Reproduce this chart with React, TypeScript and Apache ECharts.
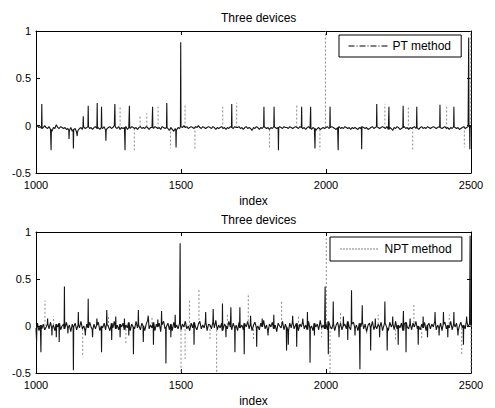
import React, { useEffect, useRef } from "react";
import * as echarts from "echarts";

// Baseline samples every 5 indices, from 1000 to 2500
const X_START = 1000;
const X_STEP = 5;

const PT_BASE = [
  -0.01,0.00,-0.02,-0.01,-0.03,-0.02,0.00,-0.02,-0.03,-0.01,-0.04,-0.06,-0.02,-0.03,0.01,-0.02,-0.03,-0.01,-0.02,-0.03,
  -0.02,-0.04,-0.03,-0.05,-0.02,-0.06,-0.04,-0.03,-0.07,-0.05,-0.03,-0.02,-0.04,-0.01,-0.03,-0.02,-0.01,-0.03,-0.02,-0.04,
  -0.02,-0.01,-0.03,-0.02,-0.04,-0.02,-0.03,-0.01,-0.05,-0.03,-0.02,-0.01,-0.03,-0.02,0.00,-0.02,-0.03,-0.01,-0.04,-0.02,
  -0.03,-0.02,-0.01,-0.04,-0.02,-0.03,-0.01,-0.02,-0.03,-0.02,-0.04,-0.02,-0.01,-0.03,-0.02,-0.03,-0.01,-0.02,-0.04,-0.02,
  -0.02,-0.03,-0.01,-0.02,-0.03,-0.02,-0.04,-0.01,-0.02,-0.03,-0.02,-0.03,-0.05,-0.02,-0.04,-0.06,-0.03,-0.05,-0.02,-0.03,
  -0.01,-0.02,0.00,-0.02,-0.01,-0.03,-0.02,-0.01,-0.02,-0.03,-0.01,-0.02,0.00,-0.02,-0.03,-0.01,-0.02,-0.03,-0.02,-0.01,
  -0.02,-0.03,-0.01,-0.02,-0.04,-0.02,-0.03,-0.02,-0.01,-0.03,-0.02,-0.04,-0.02,-0.03,-0.01,-0.02,-0.03,-0.01,-0.02,-0.02,
  -0.01,-0.03,-0.02,-0.04,-0.02,-0.01,-0.03,-0.02,-0.03,-0.05,-0.02,-0.03,-0.01,-0.02,-0.04,-0.02,-0.03,-0.01,-0.02,-0.03,
  -0.02,-0.04,-0.02,-0.03,-0.01,-0.02,-0.03,-0.02,-0.01,-0.02,-0.03,-0.01,-0.02,-0.02,-0.03,-0.01,-0.02,-0.03,-0.02,-0.01,
  -0.02,-0.03,-0.01,-0.02,-0.03,-0.02,-0.04,-0.02,-0.01,-0.03,-0.04,-0.02,-0.03,-0.05,-0.03,-0.02,-0.04,-0.03,-0.02,-0.03,
  -0.02,-0.01,-0.03,-0.02,-0.01,-0.02,-0.03,-0.04,-0.02,-0.01,-0.03,-0.02,-0.03,-0.01,-0.02,-0.03,-0.02,-0.04,-0.02,-0.03,
  -0.02,-0.03,-0.04,-0.02,-0.03,-0.01,-0.02,-0.03,-0.02,-0.04,-0.03,-0.02,-0.01,-0.03,-0.02,-0.01,-0.02,-0.03,-0.02,-0.01,
  -0.02,-0.03,-0.01,-0.04,-0.02,-0.03,-0.05,-0.02,-0.03,-0.01,-0.02,-0.04,-0.03,-0.02,-0.01,-0.03,-0.02,-0.04,-0.02,-0.03,
  -0.02,-0.01,-0.03,-0.02,-0.04,-0.02,-0.01,-0.03,-0.02,-0.03,-0.01,-0.02,-0.03,-0.02,-0.01,-0.02,-0.03,-0.02,-0.01,-0.02,
  -0.03,-0.02,-0.01,-0.03,-0.02,-0.04,-0.02,-0.03,-0.01,-0.02,-0.03,-0.02,-0.04,-0.03,-0.02,-0.01,-0.03,-0.02,-0.01,0.00,
  -0.02,
];

const NPT_BASE = [
  -0.02,0.03,-0.05,0.01,-0.03,0.02,-0.04,-0.01,0.02,-0.03,0.04,-0.02,0.01,-0.05,0.02,-0.01,0.03,-0.04,0.00,0.02,
  -0.03,0.04,-0.02,0.01,-0.06,0.02,-0.01,0.03,-0.04,0.01,-0.02,0.05,-0.03,0.00,-0.05,0.02,-0.02,0.04,-0.01,-0.04,
  0.02,-0.03,0.01,0.04,-0.05,0.00,-0.02,0.03,-0.04,0.02,-0.01,-0.05,0.03,-0.02,0.05,-0.03,0.01,-0.04,0.02,-0.01,
  0.03,-0.04,0.01,-0.02,0.04,-0.05,0.02,-0.01,-0.03,0.05,-0.02,0.01,-0.04,0.03,0.00,-0.05,0.02,0.06,-0.03,0.01,
  -0.02,0.04,-0.05,0.02,-0.01,0.03,-0.06,0.01,0.05,-0.03,-0.01,0.03,-0.04,0.02,-0.05,0.04,-0.02,0.01,-0.03,0.03,
  -0.04,0.02,-0.01,0.05,-0.03,0.00,-0.05,0.03,-0.02,0.04,-0.01,-0.04,0.02,0.05,-0.03,0.01,-0.02,0.04,-0.05,0.02,
  0.01,-0.03,0.04,-0.02,0.06,-0.04,0.01,-0.02,0.03,-0.05,0.02,0.00,-0.03,0.05,-0.01,-0.04,0.03,-0.02,0.01,-0.05,
  0.04,-0.02,0.01,-0.04,0.03,-0.01,0.05,-0.03,0.02,-0.05,0.01,0.04,-0.02,0.00,-0.04,0.03,-0.01,0.06,-0.03,0.01,
  -0.05,0.02,-0.01,0.04,-0.03,0.01,-0.06,0.03,0.00,-0.02,0.05,-0.04,0.02,-0.01,-0.05,0.03,-0.02,0.04,-0.03,0.01,
  0.03,-0.05,0.02,-0.01,0.04,-0.03,0.01,-0.04,0.05,-0.02,0.00,-0.05,0.03,-0.01,0.02,-0.04,0.06,-0.02,0.01,-0.03,
  0.02,-0.04,0.05,-0.01,-0.03,0.02,-0.05,0.01,0.04,-0.02,0.03,-0.04,0.00,0.02,-0.03,0.05,-0.01,-0.04,0.02,0.04,
  -0.02,0.01,-0.05,0.03,-0.01,0.04,-0.03,0.02,-0.06,0.01,0.03,-0.02,0.05,-0.04,0.00,-0.03,0.02,-0.01,0.04,-0.05,
  0.01,0.03,-0.02,-0.05,0.04,-0.01,0.02,-0.04,0.05,-0.03,0.01,-0.02,0.03,-0.05,0.02,0.04,-0.01,-0.03,0.02,-0.04,
  0.03,-0.01,0.05,-0.03,0.00,-0.04,0.02,-0.02,0.04,-0.05,0.01,0.03,-0.03,0.02,-0.01,0.05,-0.04,0.01,-0.02,0.03,
  -0.05,0.02,0.04,-0.03,0.01,-0.02,0.05,-0.04,0.02,-0.01,0.03,-0.05,0.00,0.04,-0.02,0.01,-0.03,0.05,-0.01,0.02,
  0.01,
];

// Spikes [index, value] drawn in the dark trace
const PT_SPIKES = [
  [1020,0.23],[1052,-0.26],[1114,-0.14],[1129,-0.24],[1142,-0.11],[1163,0.10],[1180,0.21],[1211,0.24],
  [1226,0.20],[1241,-0.16],[1272,0.23],[1307,-0.26],[1322,0.21],[1402,0.20],[1451,0.24],[1483,-0.23],
  [1499,0.88],[1675,0.23],[1786,0.20],[1821,0.20],[1836,-0.26],[1916,0.20],[1947,0.20],[1962,-0.24],
  [2014,0.20],[2042,-0.26],[2123,-0.25],[2175,0.23],[2217,0.20],[2266,0.21],[2313,0.20],[2393,0.22],
  [2441,0.20],[2492,0.93],[2496,-0.25],
];

// Spikes [index, value] drawn in the grey dotted trace
const PT_GRAY = [
  [1290,0.21],[1339,-0.26],[1359,0.11],[1382,0.13],[1421,0.20],[1464,-0.24],[1514,0.23],[1548,-0.26],
  [1644,0.20],[1692,0.24],[1805,-0.23],[1899,0.22],[1979,-0.26],[1998,1.0],[2203,0.23],[2284,0.20],
  [2299,-0.25],[2416,0.20],[2477,-0.23],[2499,1.0],
];

const NPT_SPIKES = [
  [1002,-0.17],[1017,-0.28],[1040,0.08],[1055,-0.10],[1070,-0.12],[1080,-0.17],[1098,0.42],[1110,-0.08],
  [1129,-0.47],[1146,0.15],[1170,-0.10],[1180,0.29],[1195,-0.12],[1210,0.08],[1226,-0.28],[1244,0.17],
  [1261,-0.15],[1275,0.10],[1290,-0.12],[1305,0.08],[1320,-0.10],[1336,-0.30],[1353,0.17],[1370,-0.17],
  [1387,0.11],[1405,-0.20],[1420,0.07],[1433,0.16],[1448,-0.40],[1465,-0.12],[1480,0.12],[1497,0.88],
  [1545,-0.20],[1585,0.15],[1611,0.18],[1643,0.24],[1655,-0.12],[1672,0.20],[1686,-0.28],[1703,0.20],
  [1718,-0.30],[1740,0.11],[1761,-0.22],[1780,0.08],[1800,-0.10],[1820,0.12],[1864,-0.26],[1870,-0.20],
  [1885,0.11],[1899,-0.22],[1920,0.08],[1936,0.15],[1945,-0.39],[1960,-0.10],[1997,0.42],[2008,-0.30],
  [2025,0.26],[2045,-0.12],[2060,0.10],[2075,-0.15],[2088,0.38],[2100,-0.10],[2117,-0.46],[2125,0.22],
  [2154,-0.26],[2170,0.08],[2185,-0.12],[2203,0.26],[2211,-0.26],[2230,0.10],[2249,-0.20],[2267,0.16],
  [2276,-0.28],[2290,0.08],[2318,-0.20],[2335,0.10],[2350,-0.12],[2376,0.15],[2390,-0.10],[2405,0.15],
  [2420,-0.12],[2441,0.15],[2455,-0.10],[2474,-0.20],[2485,0.10],[2497,0.96],
];

const NPT_GRAY = [
  [1031,0.27],[1060,0.10],[1161,-0.33],[1250,0.12],[1310,-0.20],[1400,0.10],[1500,-0.50],[1514,-0.35],
  [1529,0.29],[1562,0.40],[1600,-0.15],[1623,-0.50],[1660,0.12],[1732,0.35],[1750,-0.15],[1847,0.27],
  [1905,0.10],[1985,-0.12],[2001,0.93],[2014,-0.50],[2050,0.15],[2140,-0.10],[2180,0.12],[2240,-0.15],
  [2303,0.24],[2330,-0.15],[2425,0.12],[2468,-0.30],[2500,-0.50],
];

const X_TICKS = { min: 1000, max: 2500, interval: 500 };
const Y_TICKS = { min: -0.5, max: 1, interval: 0.5 };
const TITLE = "Three devices";
const X_NAME = "index";

function nearestBase(base: number[], x: number) {
  let i = Math.round((x - X_START) / X_STEP);
  if (i < 0) i = 0;
  if (i >= base.length) i = base.length - 1;
  return base[i];
}

function buildTrace(base: number[], spikes: number[][]) {
  const pts: any[] = [];
  base.forEach((v, i) => {
    const x = X_START + i * X_STEP;
    if (!spikes.some((s) => Math.abs(s[0] - x) <= 1)) pts.push([x, v]);
  });
  spikes.forEach(([x, v]) => {
    const b = nearestBase(base, x);
    pts.push([x - 1, b], [x, v], [x + 1, b]);
  });
  pts.sort((a, b) => a[0] - b[0]);
  return pts;
}

function buildSticks(base: number[], spikes: number[][]) {
  const pts: any[] = [];
  spikes.forEach(([x, v]) => {
    pts.push([x, nearestBase(base, x)], [x, v], [x, "-"]);
  });
  return pts;
}

const FONT = "Liberation Sans, Arial, Helvetica, sans-serif";

export default function App() {
  const ref = useRef<HTMLDivElement>(null);
  useEffect(() => {
    document.body.style.margin = "0";
    if (!ref.current) return;
    const chart = echarts.init(ref.current, null, { renderer: "svg" });

    const grids = [
      { left: 36, top: 31, width: 435, height: 142 },
      { left: 36, top: 232, width: 435, height: 142 },
    ];
    const axisLine = { show: true, onZero: false, lineStyle: { color: "#000", width: 1 } };
    const tick = { show: true, inside: true, length: 4, lineStyle: { color: "#000" } };
    const xAxes: any[] = [];
    const yAxes: any[] = [];
    [0, 1].forEach((g) => {
      xAxes.push({
        type: "value", gridIndex: g, position: "bottom", ...X_TICKS,
        axisLine, axisTick: tick, splitLine: { show: false },
        axisLabel: { color: "#000", fontSize: 11, fontFamily: FONT, margin: 6, formatter: (v: number) => String(v) },
        name: X_NAME, nameLocation: "middle", nameGap: 22,
        nameTextStyle: { color: "#000", fontSize: 12, fontFamily: FONT },
      });
      xAxes.push({
        type: "value", gridIndex: g, position: "top", ...X_TICKS,
        axisLine, axisTick: tick, splitLine: { show: false }, axisLabel: { show: false },
      });
      yAxes.push({
        type: "value", gridIndex: g, position: "left", ...Y_TICKS,
        axisLine, axisTick: tick, splitLine: { show: false },
        axisLabel: { color: "#000", fontSize: 11, fontFamily: FONT, margin: 5, formatter: (v: number) => String(v) },
      });
      yAxes.push({
        type: "value", gridIndex: g, position: "right", ...Y_TICKS,
        axisLine, axisTick: tick, splitLine: { show: false }, axisLabel: { show: false },
      });
    });

    const dark = (name: string, data: any[], ax: number) => ({
      name, type: "line", data, xAxisIndex: ax, yAxisIndex: ax,
      symbol: "none", showSymbol: false, clip: true,
      lineStyle: { color: "#151515", width: 1.1 },
      itemStyle: { color: "#151515" },
    });
    const grey = (name: string, data: any[], ax: number) => ({
      name, type: "line", data, xAxisIndex: ax, yAxisIndex: ax,
      symbol: "none", showSymbol: false, clip: true, connectNulls: false,
      lineStyle: { color: "#8a8a8a", width: 1, type: [2, 2] },
      itemStyle: { color: "#8a8a8a" },
    });

    const legendBase = {
      orient: "vertical",
      backgroundColor: "#fff",
      borderColor: "#000",
      borderWidth: 1,
      borderRadius: 0,
      itemWidth: 39,
      itemHeight: 12,
      itemGap: 0,
      textStyle: { color: "#000", fontSize: 12, fontFamily: FONT },
      itemStyle: { color: "rgba(0,0,0,0)", borderWidth: 0, opacity: 0 },
      selectedMode: false,
    };

    chart.setOption({
      animation: false,
      backgroundColor: "#fff",
      title: [
        { text: TITLE, left: 216, top: 7, textStyle: { color: "#000", fontSize: 12, fontWeight: "normal", fontFamily: FONT } },
        { text: TITLE, left: 216, top: 209, textStyle: { color: "#000", fontSize: 12, fontWeight: "normal", fontFamily: FONT } },
      ],
      grid: grids,
      xAxis: xAxes,
      yAxis: yAxes,
      legend: [
        {
          ...legendBase, data: ["PT method"], left: 339, top: 35, padding: [5, 10, 5, 9],
          lineStyle: { color: "#000", width: 1, type: [6, 2, 1, 2] },
        },
        {
          ...legendBase, data: ["NPT method"], left: 330, top: 237, padding: [6, 10, 6, 10],
          lineStyle: { color: "#000", width: 1, type: [1, 2] },
        },
      ],
      series: [
        grey("pt-grey", buildSticks(PT_BASE, PT_GRAY), 0),
        dark("PT method", buildTrace(PT_BASE, PT_SPIKES), 0),
        grey("npt-grey", buildSticks(NPT_BASE, NPT_GRAY), 2),
        dark("NPT method", buildTrace(NPT_BASE, NPT_SPIKES), 2),
      ],
    });
    return () => chart.dispose();
  }, []);
  return <div ref={ref} style={{ width: 495, height: 408 }} />;
}
